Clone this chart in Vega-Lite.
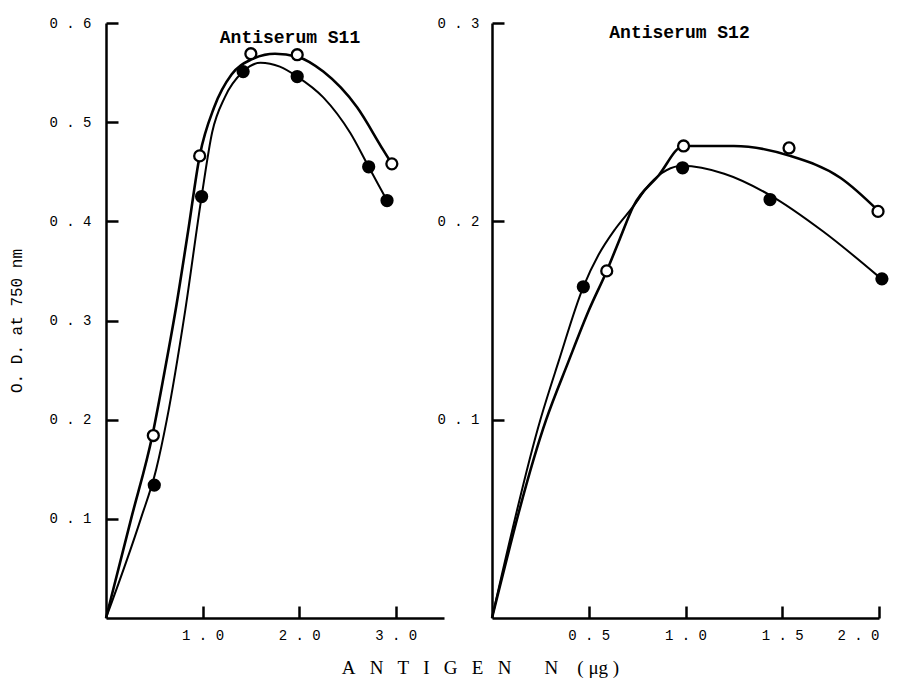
{
  "$schema": "https://vega.github.io/schema/vega-lite/v6.json",
  "background": "white",
  "padding": {"left": 8, "top": 16, "right": 5, "bottom": 5},
  "spacing": -8,
  "config": {
    "view": {"stroke": null},
    "axis": {
      "grid": false,
      "domainColor": "black",
      "domainWidth": 2.5,
      "tickColor": "black",
      "tickWidth": 2.5,
      "tickSize": -12,
      "labelFont": "Liberation Mono",
      "labelFontSize": 14,
      "labelColor": "black",
      "labelExpr": "replace(datum.label, '.', ' . ')",
      "titleFont": "Liberation Mono",
      "titleFontSize": 16,
      "titleFontWeight": "normal",
      "titleColor": "black"
    }
  },
  "title": {
    "text": "A\u00a0\u00a0 N\u00a0\u00a0 T\u00a0\u00a0 I\u00a0\u00a0 G\u00a0\u00a0 E\u00a0\u00a0 N\u00a0\u00a0\u00a0\u00a0\u00a0\u00a0 N\u00a0\u00a0\u00a0 (\u00a0μg\u00a0)",
    "orient": "bottom",
    "anchor": "middle",
    "font": "Liberation Serif",
    "fontSize": 19,
    "fontWeight": "normal",
    "color": "black",
    "offset": 17,
    "dx": 30
  },
  "datasets": {
    "s11_points": [
      {"x": 0.49, "od": 0.184, "series": "open"},
      {"x": 0.97, "od": 0.466, "series": "open"},
      {"x": 1.50, "od": 0.569, "series": "open"},
      {"x": 1.98, "od": 0.568, "series": "open"},
      {"x": 2.96, "od": 0.458, "series": "open"},
      {"x": 0.50, "od": 0.134, "series": "filled"},
      {"x": 0.99, "od": 0.425, "series": "filled"},
      {"x": 1.42, "od": 0.551, "series": "filled"},
      {"x": 1.98, "od": 0.546, "series": "filled"},
      {"x": 2.72, "od": 0.455, "series": "filled"},
      {"x": 2.91, "od": 0.421, "series": "filled"}
    ],
    "s11_curve": [
      {"x": 0, "od": 0, "series": "open"},
      {"x": 0.26, "od": 0.10, "series": "open"},
      {"x": 0.48, "od": 0.184, "series": "open"},
      {"x": 0.60, "od": 0.245, "series": "open"},
      {"x": 0.72, "od": 0.31, "series": "open"},
      {"x": 0.85, "od": 0.39, "series": "open"},
      {"x": 0.97, "od": 0.466, "series": "open"},
      {"x": 1.12, "od": 0.515, "series": "open"},
      {"x": 1.30, "od": 0.548, "series": "open"},
      {"x": 1.50, "od": 0.563, "series": "open"},
      {"x": 1.75, "od": 0.569, "series": "open"},
      {"x": 1.98, "od": 0.566, "series": "open"},
      {"x": 2.25, "od": 0.551, "series": "open"},
      {"x": 2.60, "od": 0.515, "series": "open"},
      {"x": 2.87, "od": 0.472, "series": "open"},
      {"x": 2.96, "od": 0.458, "series": "open"},
      {"x": 0, "od": 0, "series": "filled"},
      {"x": 0.36, "od": 0.10, "series": "filled"},
      {"x": 0.52, "od": 0.15, "series": "filled"},
      {"x": 0.63, "od": 0.20, "series": "filled"},
      {"x": 0.82, "od": 0.31, "series": "filled"},
      {"x": 0.99, "od": 0.425, "series": "filled"},
      {"x": 1.10, "od": 0.49, "series": "filled"},
      {"x": 1.23, "od": 0.525, "series": "filled"},
      {"x": 1.42, "od": 0.551, "series": "filled"},
      {"x": 1.60, "od": 0.560, "series": "filled"},
      {"x": 1.80, "od": 0.556, "series": "filled"},
      {"x": 1.98, "od": 0.546, "series": "filled"},
      {"x": 2.25, "od": 0.525, "series": "filled"},
      {"x": 2.53, "od": 0.489, "series": "filled"},
      {"x": 2.72, "od": 0.455, "series": "filled"},
      {"x": 2.91, "od": 0.421, "series": "filled"}
    ],
    "s12_points": [
      {"x": 0.593, "od": 0.175, "series": "open"},
      {"x": 0.99, "od": 0.238, "series": "open"},
      {"x": 1.535, "od": 0.237, "series": "open"},
      {"x": 1.995, "od": 0.205, "series": "open"},
      {"x": 0.472, "od": 0.167, "series": "filled"},
      {"x": 0.985, "od": 0.227, "series": "filled"},
      {"x": 1.437, "od": 0.211, "series": "filled"},
      {"x": 2.015, "od": 0.171, "series": "filled"}
    ],
    "s12_curve": [
      {"x": 0, "od": 0, "series": "open"},
      {"x": 0.28, "od": 0.10, "series": "open"},
      {"x": 0.394, "od": 0.129, "series": "open"},
      {"x": 0.50, "od": 0.155, "series": "open"},
      {"x": 0.593, "od": 0.175, "series": "open"},
      {"x": 0.66, "od": 0.191, "series": "open"},
      {"x": 0.73, "od": 0.2075, "series": "open"},
      {"x": 0.86, "od": 0.223, "series": "open"},
      {"x": 0.99, "od": 0.238, "series": "open"},
      {"x": 1.25, "od": 0.238, "series": "open"},
      {"x": 1.54, "od": 0.233, "series": "open"},
      {"x": 1.80, "od": 0.222, "series": "open"},
      {"x": 2.00, "od": 0.205, "series": "open"},
      {"x": 0, "od": 0, "series": "filled"},
      {"x": 0.25, "od": 0.10, "series": "filled"},
      {"x": 0.343, "od": 0.129, "series": "filled"},
      {"x": 0.472, "od": 0.167, "series": "filled"},
      {"x": 0.55, "od": 0.183, "series": "filled"},
      {"x": 0.636, "od": 0.196, "series": "filled"},
      {"x": 0.73, "od": 0.2075, "series": "filled"},
      {"x": 0.817, "od": 0.219, "series": "filled"},
      {"x": 0.985, "od": 0.228, "series": "filled"},
      {"x": 1.20, "od": 0.224, "series": "filled"},
      {"x": 1.44, "od": 0.213, "series": "filled"},
      {"x": 1.71, "od": 0.195, "series": "filled"},
      {"x": 2.00, "od": 0.172, "series": "filled"}
    ]
  },
  "hconcat": [
    {
      "width": 338,
      "height": 595,
      "title": {
        "text": "Antiserum S11",
        "font": "Liberation Mono",
        "fontSize": 18,
        "fontWeight": "bold",
        "color": "black",
        "anchor": "middle",
        "offset": -31,
        "dx": 15
      },
      "layer": [
        {
          "data": {"name": "s11_curve"},
          "mark": {"type": "line", "interpolate": "monotone", "color": "black"},
          "encoding": {
            "x": {"field": "x", "type": "quantitative"},
            "y": {"field": "od", "type": "quantitative"},
            "detail": {"field": "series"},
            "strokeWidth": {"field": "series", "type": "nominal", "scale": {"domain": ["open", "filled"], "range": [2.6, 2.0]}, "legend": null}
          }
        },
        {
          "data": {"name": "s11_points"},
          "mark": {"type": "point", "shape": "circle", "filled": false, "stroke": "black", "strokeWidth": 2.3, "size": 120, "opacity": 1},
          "encoding": {
            "x": {
              "field": "x", "type": "quantitative",
              "scale": {"domain": [0, 3.5], "nice": false, "zero": true},
              "axis": {"values": [1, 2, 3], "format": ".1f", "title": null, "labelPadding": 22}
            },
            "y": {
              "field": "od", "type": "quantitative",
              "scale": {"domain": [0, 0.6], "nice": false},
              "axis": {"values": [0.1, 0.2, 0.3, 0.4, 0.5, 0.6], "format": ".1f", "title": "O. D. at 750 nm", "labelPadding": 27, "titlePadding": 24}
            },
            "fill": {"field": "series", "type": "nominal", "scale": {"domain": ["open", "filled"], "range": ["white", "black"]}, "legend": null}
          }
        }
      ]
    },
    {
      "width": 387,
      "height": 595,
      "title": {
        "text": "Antiserum S12",
        "font": "Liberation Mono",
        "fontSize": 18,
        "fontWeight": "bold",
        "color": "black",
        "anchor": "middle",
        "offset": -26,
        "dx": -6
      },
      "layer": [
        {
          "data": {"name": "s12_curve"},
          "mark": {"type": "line", "interpolate": "monotone", "color": "black"},
          "encoding": {
            "x": {"field": "x", "type": "quantitative"},
            "y": {"field": "od", "type": "quantitative"},
            "detail": {"field": "series"},
            "strokeWidth": {"field": "series", "type": "nominal", "scale": {"domain": ["open", "filled"], "range": [2.6, 2.0]}, "legend": null}
          }
        },
        {
          "data": {"name": "s12_points"},
          "mark": {"type": "point", "shape": "circle", "filled": false, "stroke": "black", "strokeWidth": 2.3, "size": 120, "opacity": 1},
          "encoding": {
            "x": {
              "field": "x", "type": "quantitative",
              "scale": {"domain": [0, 2.0], "nice": false, "zero": true},
              "axis": {"values": [0.5, 1, 1.5, 2], "format": ".1f", "title": null, "labelPadding": 22}
            },
            "y": {
              "field": "od", "type": "quantitative",
              "scale": {"domain": [0, 0.3], "nice": false},
              "axis": {"values": [0.1, 0.2, 0.3], "format": ".1f", "title": null, "labelPadding": 25}
            },
            "fill": {"field": "series", "type": "nominal", "scale": {"domain": ["open", "filled"], "range": ["white", "black"]}, "legend": null}
          }
        }
      ]
    }
  ],
  "resolve": {"scale": {"x": "independent", "y": "independent", "fill": "shared", "strokeWidth": "shared"}}
}
